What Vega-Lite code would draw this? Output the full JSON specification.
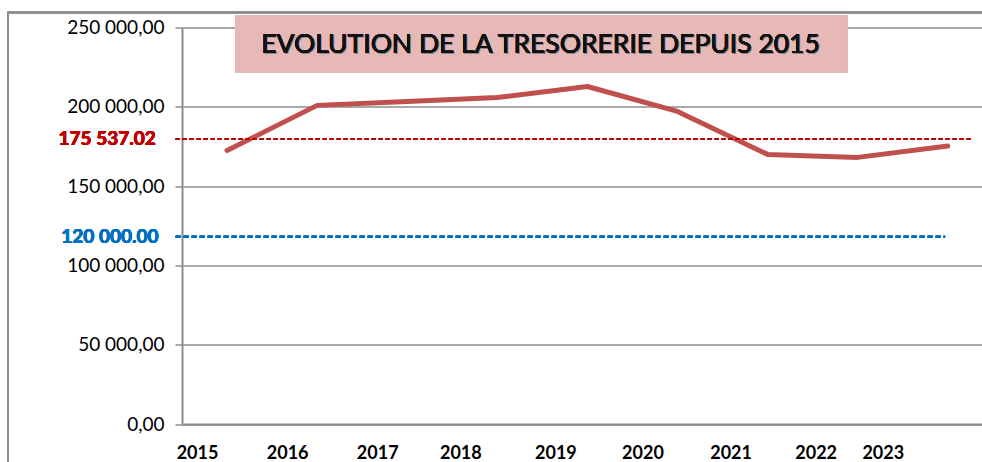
{
  "$schema": "https://vega.github.io/schema/vega-lite/v6.json",
  "width": 800,
  "height": 396.5,
  "autosize": {"type": "none"},
  "padding": {"left": 182, "top": 27.5, "right": 0, "bottom": 38},
  "background": "white",
  "config": {"view": {"stroke": null}, "font": "Lato"},
  "data": {"values": [
    {"annee": 2015, "tresorerie": 172500},
    {"annee": 2016, "tresorerie": 200900},
    {"annee": 2017, "tresorerie": 203300},
    {"annee": 2018, "tresorerie": 205900},
    {"annee": 2019, "tresorerie": 212800},
    {"annee": 2020, "tresorerie": 197100},
    {"annee": 2021, "tresorerie": 170000},
    {"annee": 2022, "tresorerie": 168100},
    {"annee": 2023, "tresorerie": 175300}
  ]},
  "layer": [
    {
      "mark": {"type": "line", "color": "#C0504D", "strokeWidth": 5, "strokeCap": "round", "strokeJoin": "round"},
      "encoding": {
        "x": {"field": "annee", "type": "quantitative",
          "scale": {"domain": [2014.5, 2023.38], "nice": false, "zero": false},
          "axis": {"values": [2015, 2016, 2017, 2018, 2019, 2020, 2021, 2022, 2023], "format": "d", "title": null,
            "grid": false, "ticks": false, "domainColor": "#8c8c8c", "domainWidth": 2,
            "labelFont": "Lato", "labelFontSize": 18, "labelFontWeight": "bold", "labelColor": "#000000",
            "labelPadding": 20, "labelFlush": false, "labelOverlap": false,
            "labelOffset": {"condition": [
              {"test": "datum.value == 2023", "value": -65},
              {"test": "datum.value == 2022", "value": -42},
              {"test": "datum.value == 2018 || datum.value == 2021", "value": -37},
              {"test": "datum.value == 2020", "value": -35},
              {"test": "datum.value == 2019", "value": -32}
            ], "value": -30}}},
        "y": {"field": "tresorerie", "type": "quantitative",
          "scale": {"domain": [0, 250000], "nice": false, "zero": true},
          "axis": {"values": [0, 50000, 100000, 150000, 200000, 250000], "title": null,
            "labelExpr": "replace(replace(format(datum.value, ',.2f'), ',', ' '), '.', ',')",
            "grid": true, "gridColor": "#8c8c8c", "gridWidth": 1.5,
            "tickColor": "#8c8c8c", "tickWidth": 1.5, "tickSize": 7,
            "domainColor": "#8c8c8c", "domainWidth": 2,
            "labelFont": "Lato", "labelFontSize": 19, "labelColor": "#000000", "labelPadding": 11}}
      }
    },
    {
      "mark": {"type": "rect", "fill": null, "fillOpacity": 0, "stroke": "#8c8c8c", "strokeWidth": 1.5, "clip": false},
      "encoding": {
        "x": {"datum": 2012.57, "type": "quantitative"},
        "x2": {"datum": 2026},
        "y": {"datum": 259500, "type": "quantitative"},
        "y2": {"datum": -40000}
      }
    },
    {
      "mark": {"type": "rect", "fill": "#E6B8B7", "clip": false},
      "encoding": {
        "x": {"datum": 2015.09, "type": "quantitative"},
        "x2": {"datum": 2021.89},
        "y": {"datum": 257560, "type": "quantitative"},
        "y2": {"datum": 221660}
      }
    },
    {
      "mark": {"type": "text", "text": "EVOLUTION DE LA TRESORERIE DEPUIS 2015", "font": "Lato", "fontSize": 26.5, "fontWeight": "normal", "color": "#888888", "opacity": 0.3, "align": "center", "baseline": "middle", "dx": 1, "dy": 1, "clip": false},
      "encoding": {
        "x": {"datum": 2018.48, "type": "quantitative"},
        "y": {"datum": 238700, "type": "quantitative"}
      }
    },
    {
      "mark": {"type": "text", "text": "EVOLUTION DE LA TRESORERIE DEPUIS 2015", "font": "Lato", "fontSize": 26.5, "fontWeight": "normal", "color": "#111111", "align": "center", "baseline": "middle", "clip": false},
      "encoding": {
        "x": {"datum": 2018.48, "type": "quantitative"},
        "y": {"datum": 238700, "type": "quantitative"}
      }
    },
    {
      "mark": {"type": "rule", "color": "#C00000", "strokeWidth": 1.5, "strokeDash": [4, 3], "clip": false},
      "encoding": {
        "x": {"datum": 2014.43, "type": "quantitative"},
        "x2": {"datum": 2023.28},
        "y": {"datum": 179500, "type": "quantitative"}
      }
    },
    {
      "mark": {"type": "rule", "color": "#0070C0", "strokeWidth": 2, "strokeDash": [5, 3], "clip": false},
      "encoding": {
        "x": {"datum": 2014.43, "type": "quantitative"},
        "x2": {"datum": 2022.97},
        "y": {"datum": 118000, "type": "quantitative"}
      }
    },
    {
      "mark": {"type": "text", "text": "175 537.02", "font": "Lato", "fontSize": 19, "fontWeight": "bold", "color": "#C00000", "align": "right", "baseline": "middle", "clip": false},
      "encoding": {
        "x": {"datum": 2014.21, "type": "quantitative"},
        "y": {"datum": 179500, "type": "quantitative"}
      }
    },
    {
      "mark": {"type": "text", "text": "120 000.00", "font": "Lato", "fontSize": 19, "fontWeight": "bold", "color": "#0070C0", "align": "right", "baseline": "middle", "clip": false},
      "encoding": {
        "x": {"datum": 2014.24, "type": "quantitative"},
        "y": {"datum": 118000, "type": "quantitative"}
      }
    }
  ]
}
